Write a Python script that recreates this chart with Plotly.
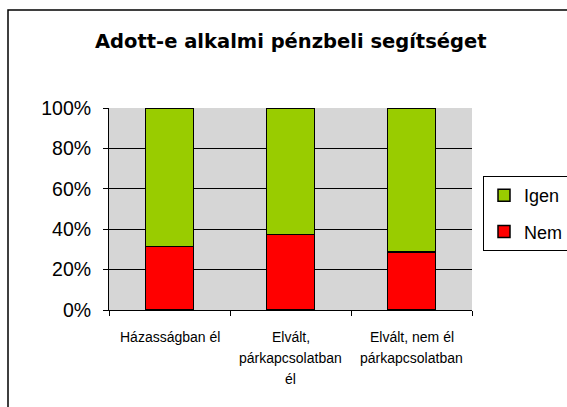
import plotly.graph_objects as go

categories = ["Házasságban él", "Elvált, párkapcsolatban él", "Elvált, nem él párkapcsolatban"]
category_lines = [["Házasságban él"], ["Elvált,", "párkapcsolatban", "él"], ["Elvált, nem él", "párkapcsolatban"]]
nem = [0.314, 0.375, 0.286]
igen = [0.686, 0.625, 0.714]
y_ticks = [0, 0.2, 0.4, 0.6, 0.8, 1.0]
title = "Adott-e alkalmi pénzbeli segítséget"

W, H = 567, 407
L, R, T, B = 109, 95, 108, 97
pw, ph = W - L - R, H - T - B

def px_x(p):
    return (p - L) / pw

def px_y(p):
    return (H - B - p) / ph

fig = go.Figure()
fig.add_trace(go.Bar(x=categories, y=nem, name="Nem", legendgroup="nem", legendrank=2,
                     marker=dict(color="#FF0000", line=dict(color="black", width=1.5)), width=0.4))
fig.add_trace(go.Bar(x=categories, y=igen, name="Igen", legendgroup="igen", legendrank=1,
                     marker=dict(color="#99CC00", line=dict(color="black", width=1.5)), width=0.4))

annotations = []
for cat, lines in zip(categories, category_lines):
    for i, ln in enumerate(lines):
        annotations.append(dict(x=cat, xref="x", y=0, yref="paper", yanchor="middle", xanchor="center",
                                yshift=-(27 + 21 * i), text=ln, showarrow=False,
                                font=dict(family="Liberation Sans, Arial", size=14, color="black")))
annotations.append(dict(x=0.5, xref="paper", y=px_y(42), yref="paper", yanchor="middle", xanchor="center",
                        text="<b>" + title + "</b>", showarrow=False,
                        font=dict(family="DejaVu Sans", size=19.5, color="black")))

fig.update_layout(
    width=W, height=H,
    margin=dict(l=L, r=R, t=T, b=B, autoexpand=False),
    paper_bgcolor="white",
    plot_bgcolor="#d6d6d6",
    barmode="stack",
    showlegend=True,
    legend=dict(x=px_x(483), y=px_y(176), xanchor="left", yanchor="top", traceorder="grouped",
                bordercolor="black", borderwidth=1, bgcolor="white",
                font=dict(family="Liberation Sans, Arial", size=18, color="black"),
                itemwidth=30, tracegroupgap=10),
    annotations=annotations,
    shapes=[dict(type="rect", xref="paper", yref="paper", x0=px_x(8), x1=px_x(620), y0=px_y(460), y1=px_y(10),
                 line=dict(color="black", width=1.5), fillcolor="rgba(0,0,0,0)", layer="below")],
    font=dict(family="Liberation Sans, Arial", color="black"),
)
fig.update_xaxes(showticklabels=False, ticks="outside", tickson="boundaries", ticklen=5, tickcolor="black",
                 showline=True, linecolor="black", linewidth=1, showgrid=False)
fig.update_yaxes(range=[0, 1], tickvals=y_ticks, tickformat=".0%", ticks="outside", ticklen=5, tickcolor="black",
                 showline=True, linecolor="black", linewidth=1, showgrid=True, gridcolor="black", gridwidth=1,
                 zeroline=False, ticklabelstandoff=8,
                 tickfont=dict(family="Liberation Sans, Arial", size=19.5, color="black"))

fig.write_html("out.html", config={"displayModeBar": False},
               post_script="document.body.style.margin='0px';")
